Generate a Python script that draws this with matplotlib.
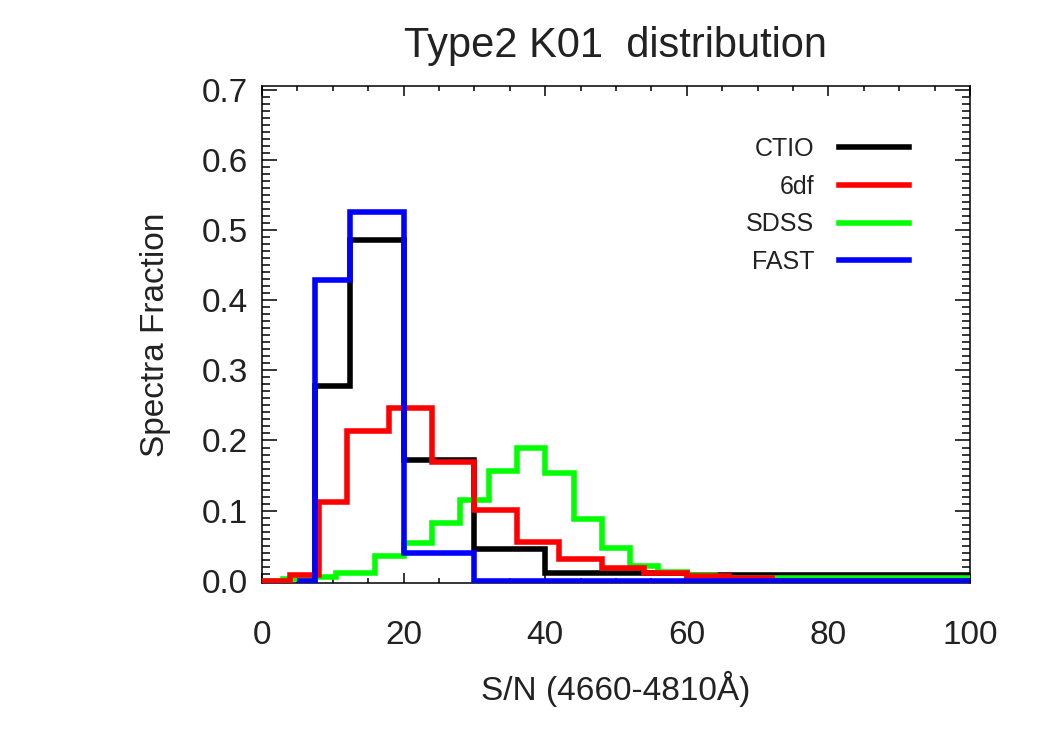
import numpy as np
import matplotlib.pyplot as plt
from matplotlib.ticker import MultipleLocator

plt.rcParams['font.family'] = ['Liberation Sans', 'DejaVu Sans']

# bin edges and spectra fractions
ctio_edges = [5, 7.5, 12.5, 20, 30, 40, 60, 100]
ctio_frac = [0.0, 0.277, 0.486, 0.172, 0.046, 0.011, 0.009]

df6_edges = [0, 4, 8, 12, 18, 24, 30, 36, 42, 48, 54, 60, 66, 72, 100]
df6_frac = [0.0, 0.008, 0.113, 0.214, 0.246, 0.170, 0.101, 0.055, 0.031,
            0.018, 0.011, 0.007, 0.004, 0.0]

sdss_edges = [0, 3, 7.5, 10.5, 16, 20, 24, 28, 32, 36, 40, 44, 48, 52, 56,
              60, 64, 100]
sdss_frac = [0.0, 0.003, 0.005, 0.011, 0.035, 0.054, 0.082, 0.115, 0.157,
             0.190, 0.153, 0.088, 0.047, 0.021, 0.012, 0.008, 0.004]

fast_edges = [5, 7.5, 12.5, 20, 30, 100]
fast_frac = [0.0, 0.429, 0.526, 0.040, 0.0]

txt = '#222222'

fig = plt.figure(figsize=(10.5, 7.5), dpi=100)
ax = fig.add_axes([0.2495, 0.2227, 0.6743, 0.6626])

l1 = ax.stairs(ctio_frac, ctio_edges, baseline=None, color='black', lw=4, zorder=2, label='CTIO')
l3 = ax.stairs(sdss_frac, sdss_edges, baseline=None, color='#00ff00', lw=4, zorder=3, label='SDSS')
l2 = ax.stairs(df6_frac, df6_edges, baseline=None, color='red', lw=4, zorder=4, label='6df')
l4 = ax.stairs(fast_frac, fast_edges, baseline=None, color='blue', lw=4, zorder=5, label='FAST')

ax.set_xlim(0, 100)
ax.set_ylim(-0.003, 0.705)
ax.xaxis.set_major_locator(MultipleLocator(20))
ax.xaxis.set_minor_locator(MultipleLocator(5))
ax.yaxis.set_major_locator(MultipleLocator(0.1))
ax.yaxis.set_minor_locator(MultipleLocator(0.01))
ax.yaxis.set_major_formatter(plt.FormatStrFormatter('%.1f'))

ax.tick_params(axis='both', which='both', direction='in', top=True, right=True,
               width=1.1, colors='black', labelcolor=txt, labelsize=24)
ax.tick_params(axis='x', which='major', length=7, pad=27)
ax.tick_params(axis='x', which='minor', length=3.6)
ax.tick_params(axis='y', which='major', length=11, pad=10)
ax.tick_params(axis='y', which='minor', length=5.5)
for s in ax.spines.values():
    s.set_linewidth(1.1)

ax.set_xlabel('S/N (4660-4810Å)', fontsize=24, color=txt, labelpad=14)
ax.set_ylabel('Spectra Fraction', fontsize=24, color=txt, labelpad=22)
ax.set_title('Type2 K01  distribution', fontsize=30, color=txt, pad=21)

leg = ax.legend(handles=[l1, l2, l3, l4], loc='upper right', bbox_to_anchor=(0.932, 0.923),
                frameon=False, markerfirst=False, fontsize=18, borderpad=0,
                handlelength=2.8, handletextpad=1.0, labelspacing=0.55)
for t in leg.get_texts():
    t.set_color(txt)
for h in leg.legend_handles:
    h.set_linewidth(4)

fig.savefig('out.png', dpi=100)
